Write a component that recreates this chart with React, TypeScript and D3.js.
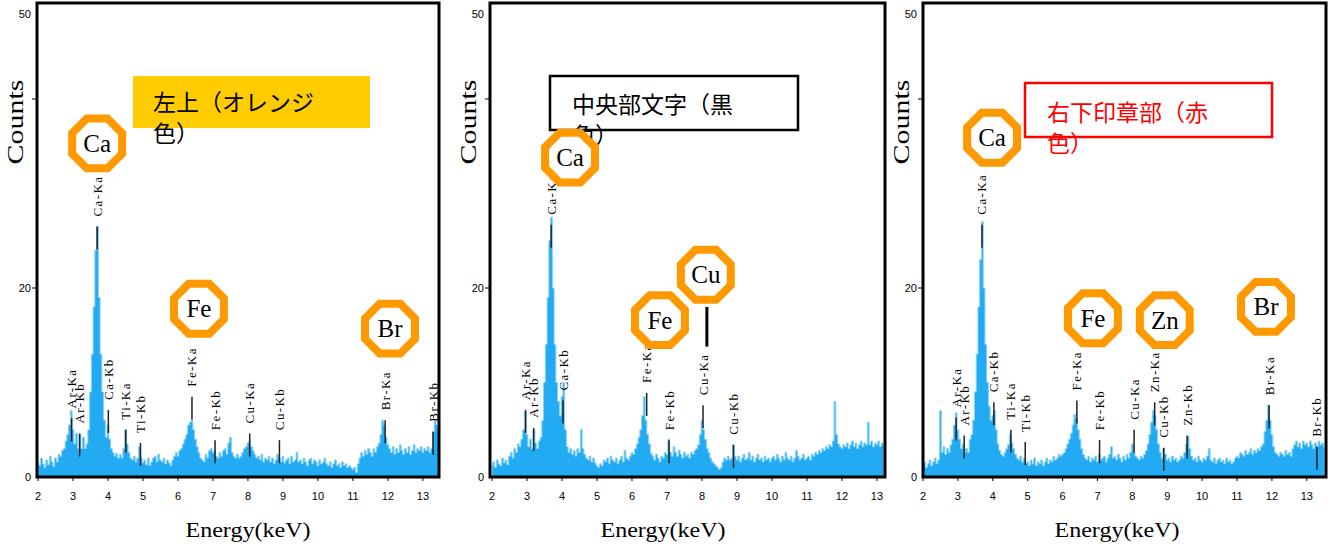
import * as d3 from 'd3';

// energy of the first channel and channel width (keV)
const E_START = 2;
const E_STEP = 0.05;

// counts per channel (2.00, 2.05, ... keV)
const countsLeft = [
  1.5, 1.2, 2.0, 1.4, 1.0, 1.8, 1.3, 2.2, 1.6, 1.1, 2.0, 1.6, 2.4, 2.2, 2.8, 3.0, 3.8, 4.5, 5.5, 7.0,
  5.0, 3.5, 4.6, 3.0, 4.5, 3.0, 4.2, 3.0, 3.5, 5.0, 9.0, 13, 18, 24, 26.5, 19, 13, 9.0, 6.0, 4.2,
  5.5, 4.0, 3.0, 2.6, 2.2, 2.5, 2.0, 2.4, 2.0, 3.0, 5.0, 3.5, 2.6, 2.0, 1.8, 2.2, 1.6, 2.0, 3.2, 2.0,
  1.5, 1.8, 1.3, 2.0, 1.2, 1.6, 2.0, 2.2, 1.6, 2.4, 1.8, 1.6, 2.0, 1.4, 1.8, 1.5, 1.2, 1.8, 2.2, 2.6,
  2.2, 2.8, 3.0, 3.5, 4.0, 4.5, 5.5, 5.8, 6.0, 5.0, 4.0, 3.2, 2.6, 2.0, 1.8, 1.6, 2.4, 2.0, 2.8, 3.0,
  2.6, 2.8, 2.2, 2.0, 2.6, 2.2, 2.8, 3.0, 2.4, 3.6, 4.2, 2.6, 2.2, 2.0, 2.4, 2.0, 2.2, 2.6, 3.0, 3.2,
  3.6, 3.8, 3.2, 2.8, 2.4, 2.0, 2.2, 1.8, 2.4, 1.6, 2.0, 1.8, 2.2, 1.6, 2.0, 1.4, 1.8, 2.4, 2.0, 1.6,
  2.2, 1.5, 1.8, 2.0, 1.4, 2.2, 1.6, 1.8, 2.6, 1.6, 1.8, 1.4, 2.0, 1.6, 1.2, 1.8, 2.0, 1.4, 1.8, 1.6,
  1.2, 1.8, 1.4, 1.6, 2.0, 1.4, 1.2, 1.6, 1.0, 1.4, 1.8, 1.2, 1.4, 1.0, 1.6, 1.2, 1.4, 1.0, 1.2, 1.0,
  0.8, 1.0, 0.5, 1.4, 2.0, 2.6, 2.2, 2.8, 2.4, 3.0, 2.6, 2.2, 3.0, 2.6, 3.2, 3.6, 4.5, 6.0, 5.5, 4.2,
  3.4, 3.0, 2.6, 3.2, 2.4, 3.0, 2.6, 3.4, 2.8, 2.4, 3.0, 2.6, 3.2, 2.4, 2.8, 3.4, 2.6, 3.0, 2.8, 3.2,
  2.6, 3.0, 2.8, 3.2, 2.6, 3.0, 4.8, 6.0, 5.5, 5.0,
];

const countsCenter = [
  1.2, 1.6, 1.0, 1.8, 1.4, 1.2, 2.0, 1.5, 1.8, 1.3, 2.2, 2.6, 2.0, 3.0, 2.6, 3.5, 3.2, 4.0, 5.0, 6.9,
  4.5, 3.2, 4.0, 3.0, 5.0, 3.6, 3.0, 3.8, 4.2, 6.0, 10, 14, 19, 25, 27.5, 20, 14, 10, 8.0, 6.5,
  8.5, 10, 5.0, 3.2, 2.6, 3.0, 2.4, 2.8, 2.2, 3.0, 2.6, 5.0, 3.0, 2.4, 2.0, 1.8, 2.2, 1.6, 2.0, 1.5,
  1.2, 1.0, 1.4, 1.2, 1.8, 1.6, 2.0, 1.4, 2.2, 1.8, 1.6, 2.0, 1.4, 1.8, 2.2, 1.6, 2.8, 2.0, 1.8, 2.2,
  2.6, 2.4, 3.0, 3.5, 4.2, 5.0, 6.5, 8.5, 6.0, 4.5, 3.5, 2.5, 2.2, 1.8, 2.4, 2.0, 1.6, 2.2, 2.0, 2.6,
  2.4, 4.0, 2.6, 2.2, 3.2, 2.6, 2.2, 2.8, 2.4, 2.0, 2.6, 2.2, 2.4, 2.0, 2.6, 2.4, 2.8, 3.0, 3.4, 4.5,
  6.0, 5.0, 4.0, 3.0, 2.6, 2.0, 1.6, 1.4, 1.2, 1.0, 0.8, 1.0, 1.6, 2.0, 1.8, 2.2, 1.8, 2.0, 3.4, 2.2,
  1.8, 2.2, 1.6, 2.0, 2.4, 1.8, 2.0, 2.6, 1.8, 2.2, 1.6, 2.0, 2.4, 1.8, 2.0, 1.6, 2.2, 1.8, 2.0, 1.6,
  2.0, 2.2, 1.8, 2.4, 2.0, 1.6, 2.2, 1.8, 2.6, 2.0, 1.8, 2.2, 1.6, 2.0, 2.8, 2.2, 1.8, 2.0, 2.4, 1.8,
  2.0, 2.2, 1.8, 2.4, 2.2, 2.6, 2.4, 2.8, 2.6, 3.0, 2.8, 3.2, 3.0, 3.4, 3.2, 3.8, 8.0, 4.5, 3.5, 3.2,
  3.0, 3.4, 3.2, 3.6, 3.0, 3.4, 3.8, 3.2, 3.6, 3.0, 3.4, 3.8, 3.2, 3.6, 3.4, 5.8, 3.4, 3.8, 3.2, 3.6,
  3.4, 3.8, 3.2, 3.6, 3.4,
];

const countsRight = [
  1.2, 1.6, 1.0, 1.4, 1.8, 1.2, 1.6, 2.0, 1.4, 1.8, 7.0, 2.6, 3.2, 2.4, 3.0, 2.6, 3.4, 4.0, 5.5, 6.8,
  5.0, 4.0, 3.0, 3.5, 2.6, 3.0, 2.6, 4.0, 4.5, 6.0, 9.0, 13, 18, 23, 27, 20, 14, 10, 7.5, 6.0,
  6.5, 7.0, 5.0, 3.5, 2.8, 2.4, 2.2, 2.6, 3.0, 3.4, 4.5, 3.6, 3.0, 2.4, 2.0, 1.8, 2.2, 1.6, 2.0, 1.4,
  1.6, 1.2, 1.8, 1.4, 2.0, 1.2, 1.6, 1.4, 1.8, 1.2, 1.6, 2.0, 1.4, 1.8, 1.6, 2.2, 1.8, 2.0, 2.4, 2.2,
  2.4, 2.6, 3.0, 3.5, 4.0, 4.6, 5.5, 6.6, 6.2, 5.0, 4.0, 3.0, 2.4, 2.0, 1.8, 2.2, 1.6, 2.0, 1.8, 2.2,
  1.6, 2.4, 1.8, 2.0, 2.2, 1.6, 2.0, 2.4, 3.2, 2.0, 2.2, 1.8, 2.4, 2.0, 1.6, 2.2, 1.8, 2.4, 2.0, 2.6,
  3.5, 2.6, 2.2, 2.0, 1.8, 2.2, 2.0, 2.4, 2.8, 3.5, 4.5, 5.8, 7.0, 6.5, 5.0, 3.5, 2.6, 2.0, 3.0, 2.4,
  1.8, 2.0, 1.6, 2.2, 1.8, 2.0, 1.6, 1.8, 2.2, 2.0, 2.6, 3.5, 4.3, 3.0, 2.2, 1.8, 2.0, 1.6, 2.2, 1.8,
  1.6, 2.0, 1.8, 2.2, 3.0, 1.8, 1.6, 2.0, 1.4, 1.8, 2.0, 1.6, 1.8, 1.4, 2.0, 1.6, 1.8, 1.4, 1.6, 2.0,
  2.2, 2.0, 2.6, 2.4, 2.2, 2.8, 2.4, 2.6, 3.0, 2.4, 2.8, 2.6, 3.0, 2.8, 3.2, 3.5, 4.8, 6.0, 7.6, 6.0,
  4.5, 3.2, 2.6, 2.4, 2.2, 2.6, 2.4, 2.2, 2.8, 2.4, 2.6, 2.2, 3.0, 3.4, 3.8, 3.2, 3.6, 3.0, 3.8, 3.4,
  3.6, 3.2, 3.8, 3.4, 3.0, 3.6, 3.2, 3.8, 3.4, 3.6, 3.2,
];

// element line markers: name, energy (keV), top of the marker (counts)
const linesLeft = [
  { name: 'Ar-Ka', e: 2.96, top: 6.2 },
  { name: 'Ar-Kb', e: 3.19, top: 4.6 },
  { name: 'Ca-Ka', e: 3.69, top: 26.5 },
  { name: 'Ca-Kb', e: 4.01, top: 7.1 },
  { name: 'Ti-Ka', e: 4.51, top: 5.0 },
  { name: 'Ti-Kb', e: 4.93, top: 3.6 },
  { name: 'Fe-Ka', e: 6.4, top: 8.5 },
  { name: 'Fe-Kb', e: 7.06, top: 3.9 },
  { name: 'Cu-Ka', e: 8.05, top: 4.6 },
  { name: 'Cu-Kb', e: 8.9, top: 3.9 },
  { name: 'Br-Ka', e: 11.92, top: 6.0 },
  { name: 'Br-Kb', e: 13.29, top: 4.8 },
];

const linesCenter = [
  { name: 'Ar-Ka', e: 2.96, top: 7.1 },
  { name: 'Ar-Kb', e: 3.19, top: 5.2 },
  { name: 'Ca-Ka', e: 3.69, top: 26.7 },
  { name: 'Ca-Kb', e: 4.03, top: 8.1 },
  { name: 'Fe-Ka', e: 6.42, top: 8.9 },
  { name: 'Fe-Kb', e: 7.06, top: 3.9 },
  { name: 'Cu-Ka', e: 8.03, top: 7.6 },
  { name: 'Cu-Kb', e: 8.9, top: 3.4 },
];

const linesRight = [
  { name: 'Ar-Ka', e: 2.95, top: 6.3 },
  { name: 'Ar-Kb', e: 3.18, top: 4.4 },
  { name: 'Ca-Ka', e: 3.69, top: 26.7 },
  { name: 'Ca-Kb', e: 4.03, top: 7.9 },
  { name: 'Ti-Ka', e: 4.52, top: 5.0 },
  { name: 'Ti-Kb', e: 4.93, top: 3.7 },
  { name: 'Fe-Ka', e: 6.41, top: 8.1 },
  { name: 'Fe-Kb', e: 7.06, top: 3.9 },
  { name: 'Cu-Ka', e: 8.05, top: 5.0 },
  { name: 'Zn-Ka', e: 8.64, top: 7.9 },
  { name: 'Cu-Kb', e: 8.9, top: 3.1 },
  { name: 'Zn-Kb', e: 9.57, top: 4.4 },
  { name: 'Br-Ka', e: 11.92, top: 7.6 },
  { name: 'Br-Kb', e: 13.29, top: 3.2 },
];

// octagon element tags: element, energy, counts of the centre
const tagsLeft = [
  { el: 'Ca', e: 3.69, c: 35.3 },
  { el: 'Fe', e: 6.6, c: 17.8 },
  { el: 'Br', e: 12.06, c: 15.7 },
];
const tagsCenter = [
  { el: 'Ca', e: 4.23, c: 33.8 },
  { el: 'Cu', e: 8.11, c: 21.4 },
  { el: 'Fe', e: 6.8, c: 16.6 },
];
const tagsRight = [
  { el: 'Ca', e: 3.98, c: 35.9 },
  { el: 'Fe', e: 6.87, c: 16.8 },
  { el: 'Zn', e: 8.93, c: 16.6 },
  { el: 'Br', e: 11.83, c: 18.0 },
];

const yTicks = [0, 20, 40, 50];
const yTickLabels = ['0', '20', '', '50'];
const xTicks = [2, 3, 4, 5, 6, 7, 8, 9, 10, 11, 12, 13];

const BLUE = '#22aaf2';
const ORANGE = '#ff9900';
const SERIF = '"Liberation Serif", "DejaVu Serif", serif';
const NARROW = '"Liberation Sans Narrow", "Liberation Sans", sans-serif';
const CJK = '"Noto Sans CJK JP", "Noto Sans", sans-serif';

const panels = [
  {
    key: 'left',
    counts: countsLeft,
    lines: linesLeft,
    tags: tagsLeft,
    xMax: 13.46,
    frameLeft: 37,
    x0: 38,
    x1: 439,
    energyX: 248,
    note: {
      lines: ['左上（オレンジ', '色）'],
      x: 133, y: 76, w: 237, h: 52,
      fill: '#ffcc00', stroke: 'none', color: '#000',
      tx: 153, ty: 111,
    },
    callout: null,
  },
  {
    key: 'center',
    counts: countsCenter,
    lines: linesCenter,
    tags: tagsCenter,
    xMax: 13.23,
    frameLeft: 490,
    x0: 492,
    x1: 885,
    energyX: 663,
    note: {
      lines: ['中央部文字（黒', '色）'],
      x: 550, y: 76, w: 248, h: 54,
      fill: '#fff', stroke: '#000', color: '#000',
      tx: 572, ty: 113,
    },
    callout: { e: 8.14, from: 18.0, to: 13.8 },
  },
  {
    key: 'right',
    counts: countsRight,
    lines: linesRight,
    tags: tagsRight,
    xMax: 13.55,
    frameLeft: 923,
    x0: 923,
    x1: 1326,
    energyX: 1117,
    note: {
      lines: ['右下印章部（赤', '色）'],
      x: 1025, y: 83, w: 247, h: 54,
      fill: '#fff', stroke: '#ff0000', color: '#ff0000',
      tx: 1047, ty: 121,
    },
    callout: null,
  },
];

const FRAME_TOP = 3;
const FRAME_BOTTOM = 477;

function octagon(cx: number, cy: number, r: number) {
  const pts = d3.range(8).map((i) => {
    const a = Math.PI / 8 + (i * Math.PI) / 4;
    return [cx + r * Math.cos(a), cy + r * Math.sin(a)];
  });
  return 'M' + pts.map((p) => p.join(',')).join('L') + 'Z';
}

function Panel({ p }: { p: (typeof panels)[number] }) {
  const x = d3.scaleLinear().domain([E_START, p.xMax]).range([p.x0, p.x1]);
  const y = d3.scaleLinear().domain([0, 50]).range([FRAME_BOTTOM, 4.5]);

  const area = d3
    .area<number>()
    .x((_, i) => x(E_START + i * E_STEP))
    .y0(y(0))
    .y1((d) => y(d))
    .curve(d3.curveStep);

  const frameW = p.x1 - p.frameLeft;

  return (
    <g>
      <path d={area(p.counts) ?? ''} fill={BLUE} stroke="#86d2f8" strokeWidth={1} />

      {/* element line markers */}
      {p.lines.map((m) => {
        const lx = x(m.e);
        const ly = y(m.top);
        return (
          <g key={m.name}>
            <line x1={lx} x2={lx} y1={ly} y2={ly + 23} stroke="#222" strokeWidth={1.5} />
            <text
              transform={`translate(${lx},${ly - 10}) rotate(-90)`}
              dominantBaseline="central"
              fontFamily={SERIF}
              fontSize={13}
              letterSpacing={1.4}
              fill="#000"
            >
              {m.name}
            </text>
          </g>
        );
      })}

      {/* frame */}
      <rect
        x={p.frameLeft}
        y={FRAME_TOP}
        width={frameW}
        height={FRAME_BOTTOM - FRAME_TOP}
        fill="none"
        stroke="#000"
        strokeWidth={3}
      />

      {/* y axis */}
      {yTicks.map((t, i) => (
        <g key={t}>
          {t > 0 && t < 50 && (
            <line x1={p.frameLeft - 5} x2={p.frameLeft} y1={y(t)} y2={y(t)} stroke="#000" strokeWidth={1} />
          )}
          <text
            x={p.frameLeft - 6}
            y={y(t) + (t === 50 ? 9.5 : 0)}
            textAnchor="end"
            dominantBaseline="central"
            fontFamily={NARROW}
            fontSize={11}
            fill="#000"
          >
            {yTickLabels[i]}
          </text>
        </g>
      ))}

      {/* x axis */}
      {xTicks.map((t) => (
        <g key={t}>
          <line x1={x(t)} x2={x(t)} y1={FRAME_BOTTOM} y2={FRAME_BOTTOM + 4} stroke="#000" strokeWidth={1} />
          <text
            x={x(t)}
            y={FRAME_BOTTOM + 19}
            textAnchor="middle"
            dominantBaseline="central"
            fontFamily={NARROW}
            fontSize={11}
            fill="#000"
          >
            {t}
          </text>
        </g>
      ))}

      <text
        x={p.energyX}
        y={537}
        textAnchor="middle"
        fontFamily={SERIF}
        fontSize={22}
        textLength={125}
        lengthAdjust="spacingAndGlyphs"
        fill="#000"
      >
        Energy(keV)
      </text>
      <text
        transform={`translate(${p.frameLeft - 22},122) rotate(-90)`}
        textAnchor="middle"
        dominantBaseline="central"
        fontFamily={SERIF}
        fontSize={23}
        textLength={85}
        lengthAdjust="spacingAndGlyphs"
        fill="#000"
      >
        Counts
      </text>

      {/* note box */}
      <rect
        x={p.note.x}
        y={p.note.y}
        width={p.note.w}
        height={p.note.h}
        fill={p.note.fill}
        stroke={p.note.stroke}
        strokeWidth={p.note.stroke === 'none' ? 0 : 2.5}
      />
      {p.note.lines.map((s, i) => (
        <text key={s} x={p.note.tx} y={p.note.ty + i * 31} fontFamily={CJK} fontSize={23} fill={p.note.color}>
          {s}
        </text>
      ))}

      {p.callout && (
        <line
          x1={x(p.callout.e)}
          x2={x(p.callout.e)}
          y1={y(p.callout.from)}
          y2={y(p.callout.to)}
          stroke="#000"
          strokeWidth={3}
        />
      )}

      {/* element tags */}
      {p.tags.map((t) => {
        const cx = x(t.e);
        const cy = y(t.c);
        return (
          <g key={t.el}>
            <path d={octagon(cx, cy, 27)} fill="#fff" stroke={ORANGE} strokeWidth={8} />
            <text
              x={cx}
              y={cy}
              textAnchor="middle"
              dominantBaseline="central"
              fontFamily={SERIF}
              fontSize={25}
              fill="#000"
            >
              {t.el}
            </text>
          </g>
        );
      })}
    </g>
  );
}

export default function App() {
  return (
    <svg
      width={1331}
      height={548}
      viewBox="0 0 1331 548"
      style={{ position: 'absolute', left: 0, top: 0, background: '#fff' }}
    >
      <rect width={1331} height={548} fill="#fff" />
      {panels.map((p) => (
        <Panel key={p.key} p={p} />
      ))}
    </svg>
  );
}
